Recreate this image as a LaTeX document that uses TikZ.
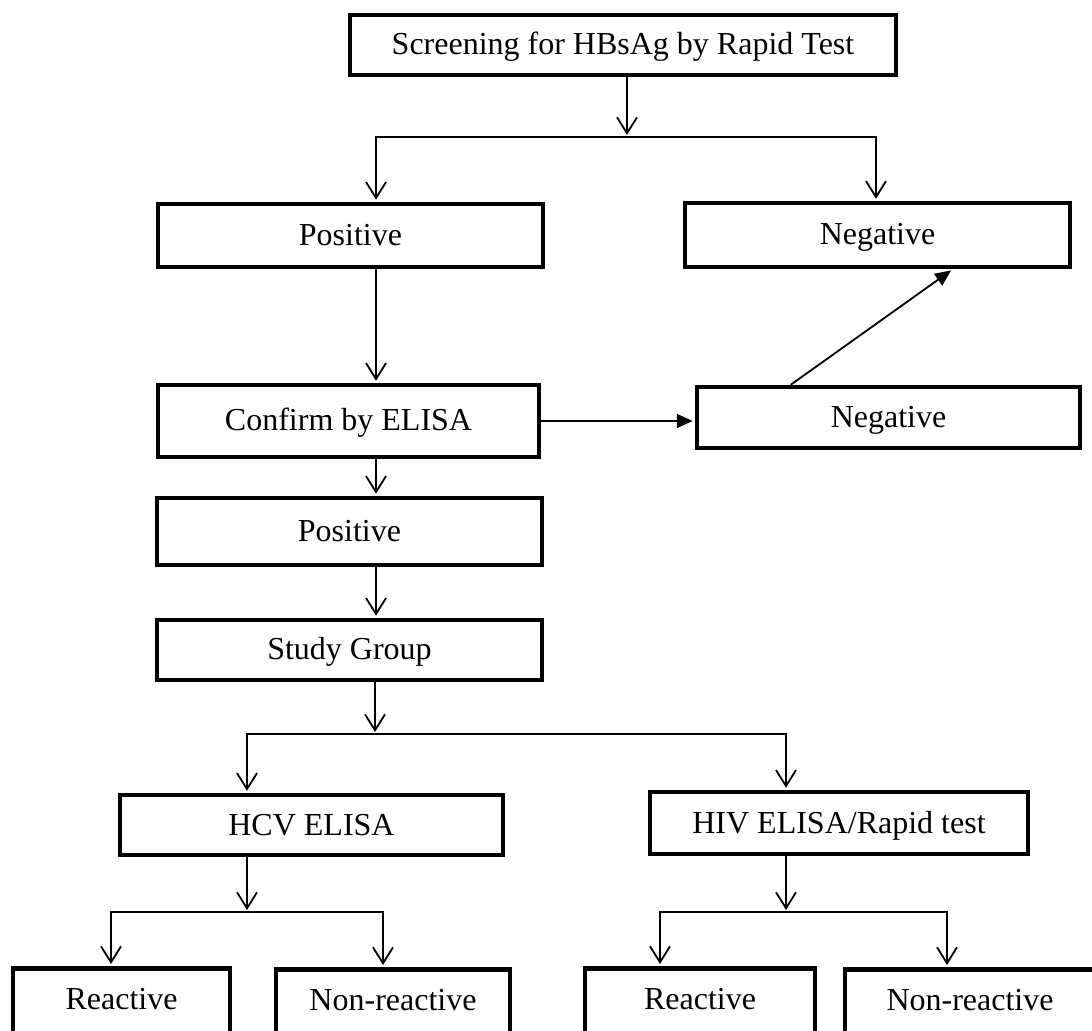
\documentclass[tikz,border=0pt]{standalone}
\usepackage{fontspec}
\setmainfont{Liberation Serif}
\usetikzlibrary{arrows.meta}
\tikzset{
  barb/.tip={Straight Barb[length=8pt,width=10pt]},
  tri/.tip={Triangle[length=8pt,width=7pt]}
}
\begin{document}
\begin{tikzpicture}[x=0.5pt,y=-0.5pt,
  box/.style={draw, line width=2.25pt, inner sep=0pt, text height=11pt, text depth=1pt,
              font=\fontsize{16}{19}\selectfont},
  cutbox/.style={box, anchor=north, inner ysep=9.5pt, text depth=50pt},
  conn/.style={line width=0.9pt},
  oarr/.style={conn, -barb, shorten >=1pt},
  dbl/.style={conn, barb-barb, shorten >=1pt, shorten <=1pt},
  farr/.style={conn, -tri, shorten >=1pt}]
\useasboundingbox (0,0) rectangle (1092,1031);
\clip (0,0) rectangle (1092,1031);

% boxes
\node[box, minimum width=273pt, minimum height=30pt] (top) at (623,45) {Screening for HBsAg by Rapid Test};
\node[box, minimum width=192.5pt, minimum height=31.5pt] (pos1) at (350.5,235.5) {Positive};
\node[box, minimum width=192.5pt, minimum height=32pt] (neg1) at (877.5,235) {Negative};
\node[box, minimum width=190.5pt, minimum height=36pt] (confirm) at (348.5,421) {Confirm by ELISA};
\node[box, minimum width=191.5pt, minimum height=30.5pt] (neg2) at (888.5,417.5) {Negative};
\node[box, minimum width=192.5pt, minimum height=33.5pt] (pos2) at (349.5,531.5) {Positive};
\node[box, minimum width=192.5pt, minimum height=30pt] (study) at (349.5,650) {Study Group};
\node[box, minimum width=191.5pt, minimum height=30pt] (hcv) at (311.5,825) {HCV ELISA};
\node[box, minimum width=189pt, minimum height=31pt] (hiv) at (839,823) {HIV ELISA/Rapid test};
\node[cutbox, minimum width=108.5pt] (r1) at (121.5,966) {Reactive};
\node[cutbox, minimum width=117pt] (n1) at (393,967) {Non-reactive};
\node[cutbox, minimum width=115pt] (r2) at (700,966) {Reactive};
\node[cutbox, minimum width=125pt] (n2) at (970,967) {Non-reactive};

% junction points
\coordinate (jA) at (627,137);
\coordinate (jL) at (376,137);
\coordinate (jR) at (876,137);
\coordinate (kA) at (375,734);
\coordinate (kL) at (247,734);
\coordinate (kR) at (786,734);
\coordinate (mA) at (247,912);
\coordinate (mL) at (111,912);
\coordinate (mR) at (383,912);
\coordinate (nA) at (786,912);
\coordinate (nL) at (660,912);
\coordinate (nR) at (947,912);

% connectors
\draw[oarr] (top.south -| jA) -- (jA);
\draw[dbl] (jL |- pos1.north) -- (jL) -- (jR) -- (jR |- neg1.north);
\draw[oarr] (pos1.south -| jL) -- (confirm.north -| jL);
\draw[farr] (confirm.east) -- (confirm.east -| neg2.west);
\draw[farr] ([xshift=48pt]neg2.north west) -- ([xshift=135pt]neg1.south west);
\draw[oarr] (confirm.south -| jL) -- (pos2.north -| jL);
\draw[oarr] (pos2.south -| jL) -- (study.north -| jL);
\draw[oarr] (study.south -| kA) -- (kA);
\draw[dbl] (kL |- hcv.north) -- (kL) -- (kR) -- (kR |- hiv.north);
\draw[oarr] (hcv.south -| mA) -- (mA);
\draw[dbl] (mL |- r1.north) -- (mL) -- (mR) -- (mR |- n1.north);
\draw[oarr] (hiv.south -| nA) -- (nA);
\draw[dbl] (nL |- r2.north) -- (nL) -- (nR) -- (nR |- n2.north);
\end{tikzpicture}
\end{document}
